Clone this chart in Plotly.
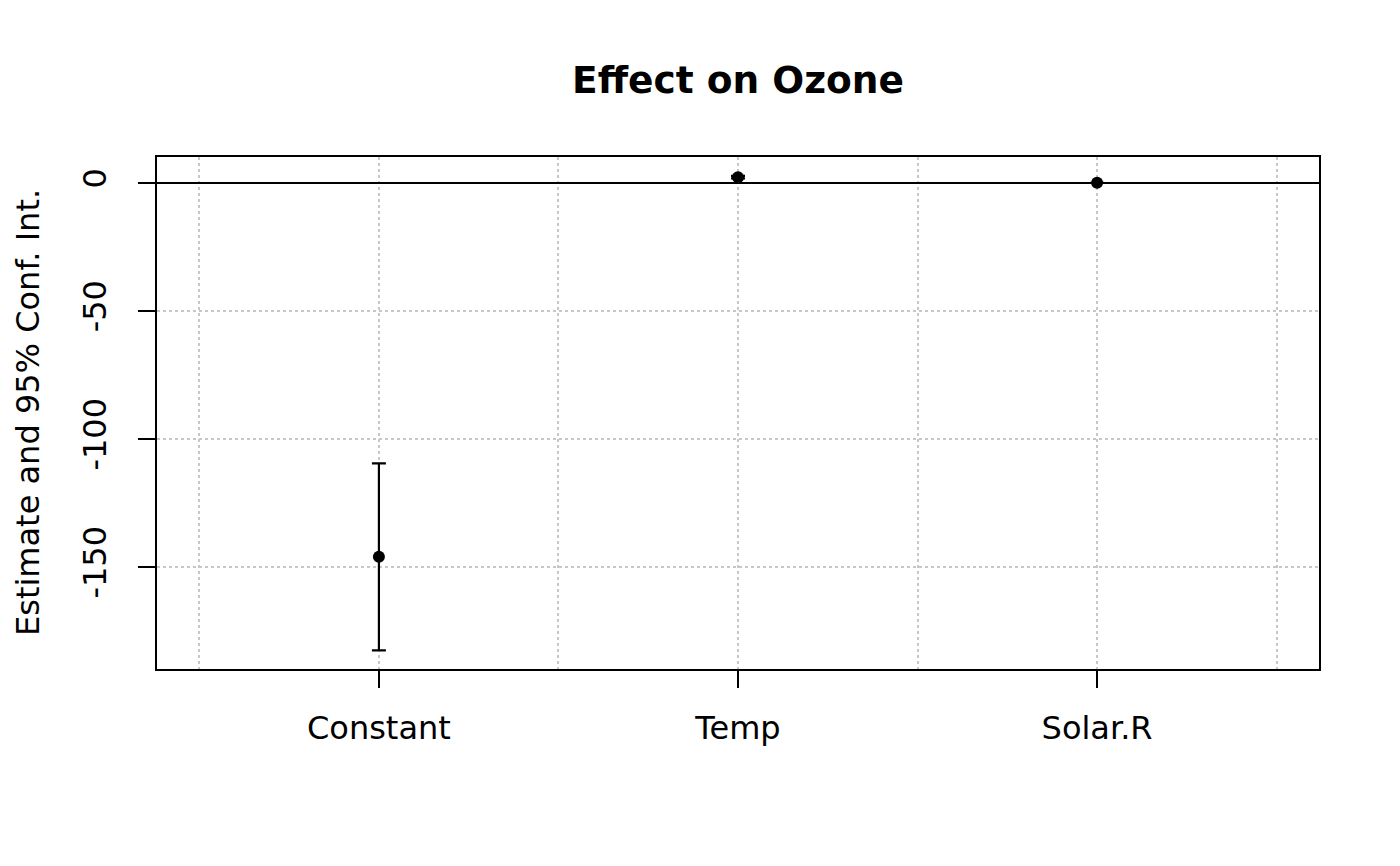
import plotly.graph_objects as go

terms = ["Constant", "Temp", "Solar.R"]
estimate = [-146.0, 2.28, 0.06]
upper = [-109.5, 2.77, 0.10]
lower = [-182.6, 1.79, 0.01]
y_ticks = [0, -50, -100, -150]
y_labels = ["0", "-50", "-100", "-150"]

xpos = list(range(1, len(terms) + 1))
err_plus = [u - e for u, e in zip(upper, estimate)]
err_minus = [e - l for e, l in zip(estimate, lower)]

font = "DejaVu Sans"

fig = go.Figure()
fig.add_trace(go.Scatter(
    x=xpos, y=estimate, mode="markers",
    marker=dict(color="black", size=12),
    error_y=dict(type="data", symmetric=False, array=err_plus, arrayminus=err_minus,
                 color="black", thickness=2.2, width=7),
    showlegend=False,
))

fig.update_layout(
    width=1400, height=866,
    plot_bgcolor="white", paper_bgcolor="white",
    margin=dict(l=149, r=89, t=149, b=205),
    font=dict(family=font, size=32, color="black"),
    title=dict(text="<b>Effect on Ozone</b>", x=0.5, xref="paper", xanchor="center",
               y=1 - 72 / 866, yref="container", yanchor="middle",
               font=dict(size=37.5, family=font, color="black")),
)

fig.update_xaxes(
    range=[0.382, 3.618], tickvals=xpos, ticktext=terms,
    ticks="outside", ticklen=17, tickwidth=1.5, tickcolor="black",
    ticklabelstandoff=13,
    showline=True, linecolor="black", linewidth=1.5, mirror=True,
    showgrid=True, gridcolor="#c8c8c8", griddash="dot", gridwidth=1.5,
    minor=dict(tick0=0.5, dtick=0.5, showgrid=True, gridcolor="#c8c8c8",
               griddash="dot", gridwidth=1.5, ticks=""),
    zeroline=False,
)
fig.update_yaxes(
    range=[-189.84, 10.16], tickvals=y_ticks, ticktext=y_labels, tickangle=-90,
    ticks="outside", ticklen=17, tickwidth=1.5, tickcolor="black",
    ticklabelstandoff=19,
    showline=True, linecolor="black", linewidth=1.5, mirror=True,
    showgrid=True, gridcolor="#c8c8c8", griddash="dot", gridwidth=1.5,
    zeroline=True, zerolinecolor="black", zerolinewidth=1.5,
)

# y axis title placed by hand, as in the R plot
fig.add_annotation(
    text="Estimate and 95% Conf. Int.", textangle=-90,
    xref="paper", yref="paper", x=(28 - 157) / 1162, y=0.5,
    xanchor="center", yanchor="middle", showarrow=False,
    font=dict(size=32, family=font, color="black"),
)

fig.write_html("out.html")
